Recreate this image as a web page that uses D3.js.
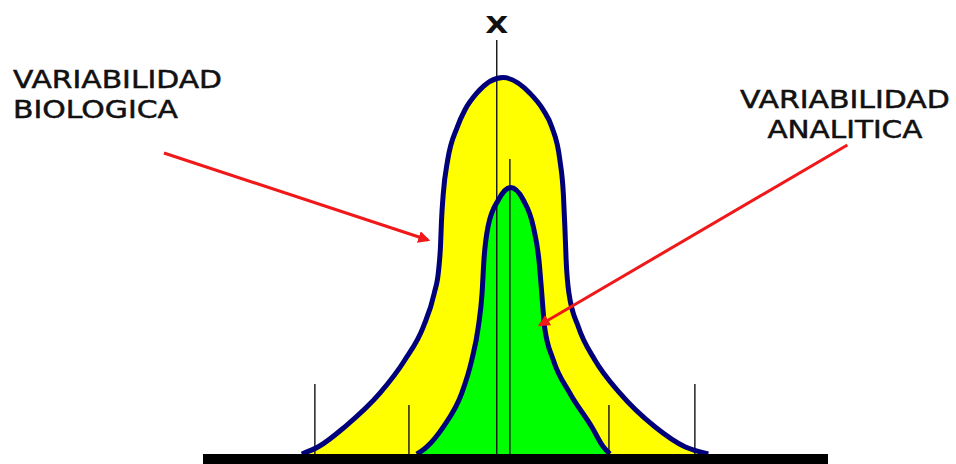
<!DOCTYPE html>
<html>
<head>
<meta charset="utf-8">
<script src="https://cdn.jsdelivr.net/npm/d3@7"></script>
<style>
  body { margin: 0; background: #fff; }
  text { font-family: "DejaVu Sans", Verdana, sans-serif; fill: #111; }
</style>
</head>
<body>
<div class="main-container"></div>
<script>
// curves: [position, height]
const outerCurve = [
  [-6.24, 0], [-5.71, 1.8], [-4.86, 6.8], [-3.74, 15.2], [-2.94, 23.5],
  [-2.35, 31.8], [-2.0, 40.2], [-1.86, 46], [-1.80, 52], [-1.77, 58],
  [-1.71, 65.2], [-1.57, 73.5], [-1.26, 81.8], [-1.02, 86], [-0.64, 90.2],
  [0.2, 94.1],
  [1.06, 90.2], [1.49, 86], [1.76, 81.8], [2.02, 73.5], [2.13, 65.2],
  [2.18, 56.8], [2.22, 48.5], [2.31, 40.2], [2.61, 31.8], [3.14, 23.5],
  [3.94, 15.2], [5.06, 6.8], [6.02, 1.8], [6.77, 0]
];
const innerCurve = [
  [-2.56, 0], [-2.24, 1.8], [-1.71, 6.8], [-1.12, 15.2], [-0.80, 23.5],
  [-0.59, 31.8], [-0.47, 40.2], [-0.41, 48.5], [-0.28, 56.8], [0.05, 63.5],
  [0.44, 66.6],
  [0.85, 63.5], [1.17, 56.8], [1.35, 48.5], [1.44, 40.2], [1.53, 31.8],
  [1.81, 23.5], [2.34, 15.2], [3.04, 6.8], [3.41, 1.8], [3.62, 0]
];
// vertical reference lines: [position, height]
const meanLines = [[0, 103.5], [0.42, 73.75]];
const tickLines = [[-5.82, 17.5], [-2.81, 12.25], [3.59, 12.25], [6.34, 17.5]];
const baseExtent = [-9.4, 10.6];

// annotations
const labels = [
  {lines: ["VARIABILIDAD", "BIOLOGICA"], x: -15.48, y: 91.6, anchor: "start", widths: [209, 165]},
  {lines: ["VARIABILIDAD", "ANALITICA"], x: 11.14, y: 86.5, anchor: "middle", widths: [210, 155]}
];
const arrows = [
  {from: [-10.65, 75.25], to: [-2.2, 53.5]},
  {from: [11.22, 77.25], to: [1.38, 32.25]}
];

const width = 956, height = 464;

const svg = d3.select(".main-container")
  .append("svg")
  .attr("width", width)
  .attr("height", height);

const x = d3.scaleLinear()
  .domain(baseExtent)
  .range([203, 828]);

const y = d3.scaleLinear()
  .domain([0, 100])
  .range([454, 54]);

const line = d3.line()
  .x(d => x(d[0]))
  .y(d => y(d[1]))
  .curve(d3.curveMonotoneX);

svg.append("defs").append("marker")
  .attr("id", "head")
  .attr("viewBox", "0 0 10 10")
  .attr("refX", 8)
  .attr("refY", 5)
  .attr("markerWidth", 4)
  .attr("markerHeight", 4)
  .attr("orient", "auto")
  .append("path")
  .attr("d", "M0,0L10,5L0,10Z")
  .attr("fill", "#f01818");

// fills
svg.append("path")
  .datum(outerCurve)
  .attr("fill", "#ffff00")
  .attr("d", line);

svg.append("path")
  .datum(innerCurve)
  .attr("fill", "#00ff00")
  .attr("d", line);

// vertical lines
svg.selectAll("line.mean")
  .data(meanLines.concat(tickLines))
  .join("line")
  .attr("x1", d => x(d[0]))
  .attr("x2", d => x(d[0]))
  .attr("y1", y(0))
  .attr("y2", d => y(d[1]))
  .attr("stroke", "#111")
  .attr("stroke-width", 1.4);

// outlines
[outerCurve, innerCurve].forEach(c => {
  svg.append("path")
    .datum(c)
    .attr("fill", "none")
    .attr("stroke", "#00007a")
    .attr("stroke-width", 5)
    .attr("stroke-linejoin", "round")
    .attr("d", line);
});

// base bar
svg.append("rect")
  .attr("x", x(baseExtent[0]))
  .attr("y", y(0))
  .attr("width", x(baseExtent[1]) - x(baseExtent[0]))
  .attr("height", 10)
  .attr("fill", "#000");

// arrows
svg.selectAll("line.arrow")
  .data(arrows)
  .join("line")
  .attr("x1", d => x(d.from[0]))
  .attr("y1", d => y(d.from[1]))
  .attr("x2", d => x(d.to[0]))
  .attr("y2", d => y(d.to[1]))
  .attr("stroke", "#f01818")
  .attr("stroke-width", 3)
  .attr("marker-end", "url(#head)");

// X label
svg.append("text")
  .attr("x", x(0))
  .attr("y", 33)
  .attr("text-anchor", "middle")
  .attr("font-size", 23)
  .attr("font-weight", "bold")
  .attr("textLength", 23)
  .attr("lengthAdjust", "spacingAndGlyphs")
  .text("X");

labels.forEach(l => {
  l.lines.forEach((t, i) => {
    svg.append("text")
      .attr("x", x(l.x))
      .attr("y", y(l.y) + i * 30)
      .attr("text-anchor", l.anchor)
      .attr("font-size", 24)
      .attr("stroke", "#111")
      .attr("stroke-width", 0.5)
      .attr("textLength", l.widths[i])
      .attr("lengthAdjust", "spacingAndGlyphs")
      .text(t);
  });
});
</script>
</body>
</html>
